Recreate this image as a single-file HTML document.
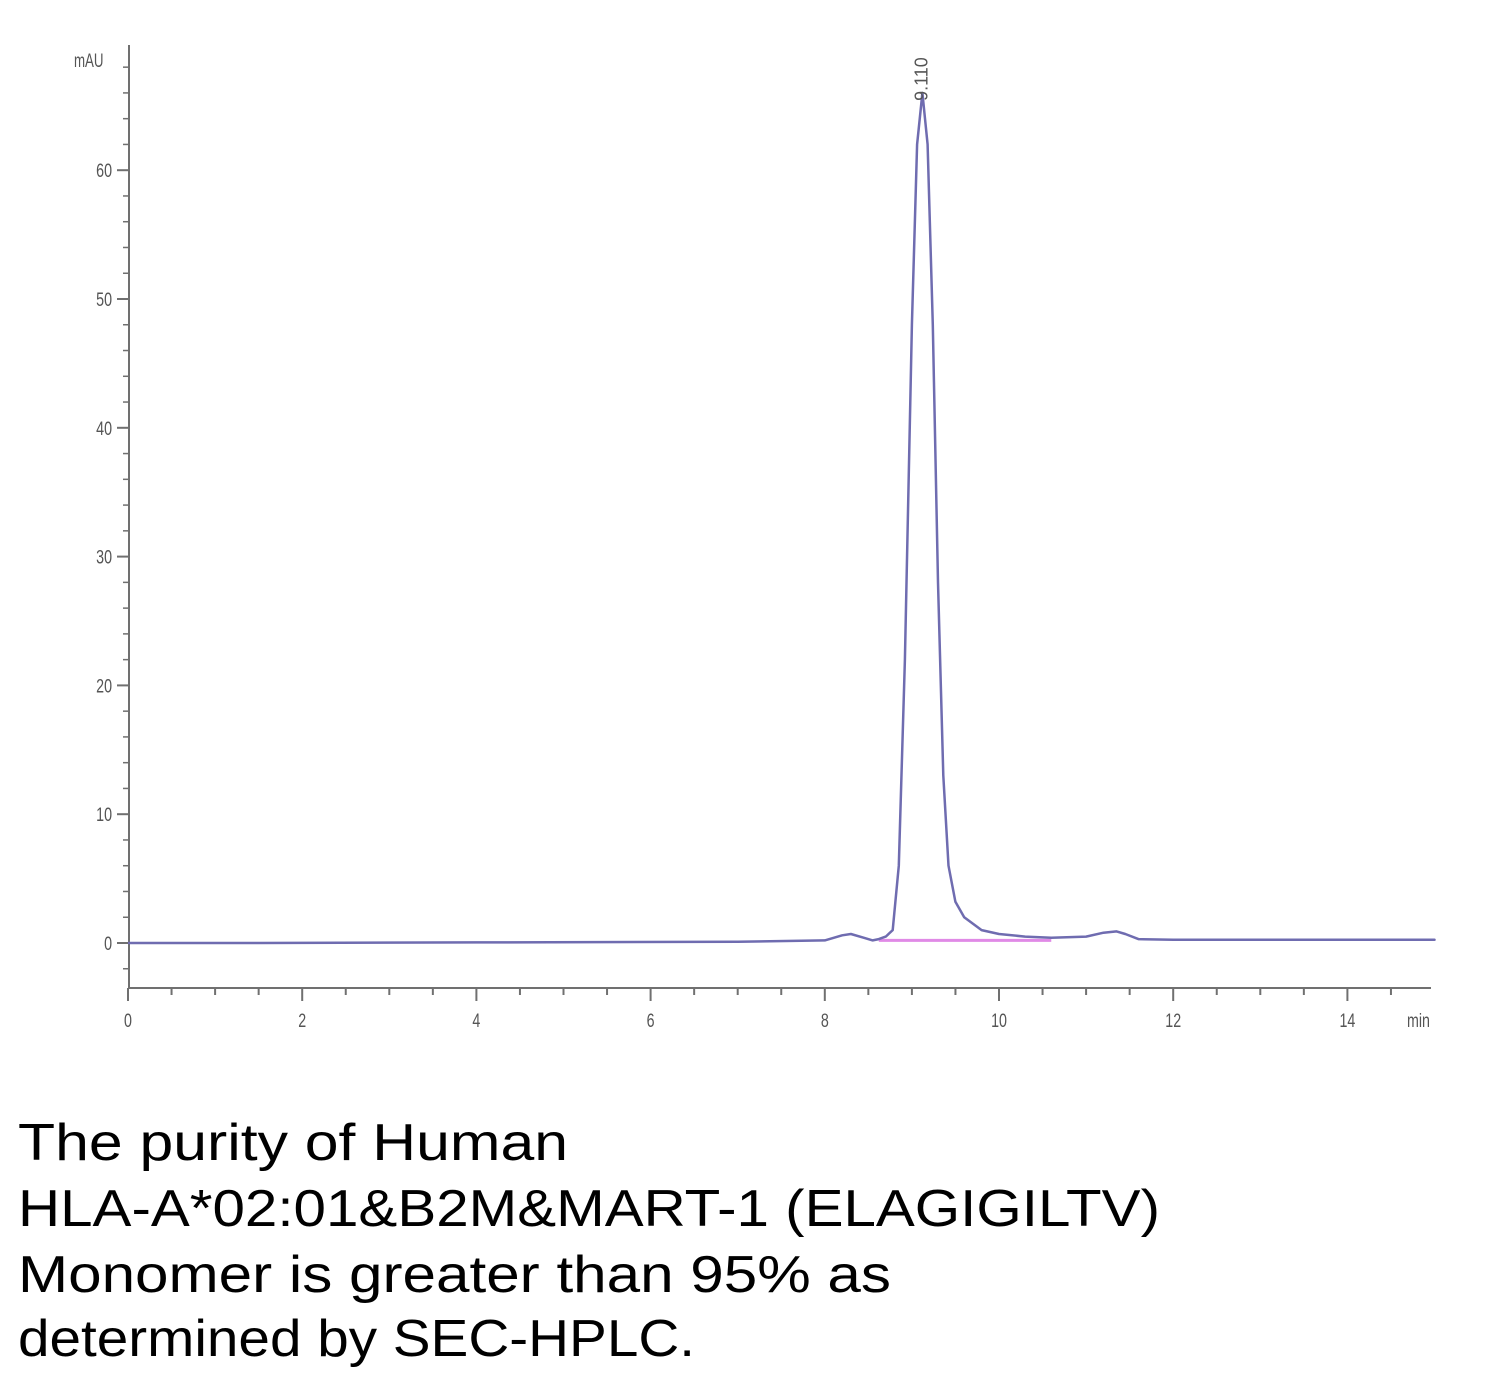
<!DOCTYPE html>
<html><head><meta charset="utf-8"><style>
html,body{margin:0;padding:0;background:#fff;width:1500px;height:1384px;overflow:hidden}
svg{display:block}
</style></head><body>
<svg id="chart" width="1500" height="1384" viewBox="0 0 1500 1384" xmlns="http://www.w3.org/2000/svg">
<g id="axes"></g>
<g id="plot"></g>
<g font-family="'Liberation Sans', sans-serif" font-size="52" fill="#000">
<text x="18" y="1160" textLength="550" lengthAdjust="spacingAndGlyphs">The purity of Human</text>
<text x="18" y="1226" textLength="1142" lengthAdjust="spacingAndGlyphs">HLA-A*02:01&amp;B2M&amp;MART-1 (ELAGIGILTV)</text>
<text x="18" y="1292" textLength="873" lengthAdjust="spacingAndGlyphs">Monomer is greater than 95% as</text>
<text x="18" y="1356" textLength="677" lengthAdjust="spacingAndGlyphs">determined by SEC-HPLC.</text>
</g>
</svg>
<script>
const times = [0,1.5,4,7,8,8.2,8.3,8.45,8.55,8.62,8.7,8.78,8.85,8.92,9.0,9.06,9.12,9.18,9.24,9.3,9.36,9.42,9.5,9.6,9.8,10.0,10.3,10.6,11.0,11.2,11.35,11.45,11.6,12,13,15];
const signal = [0,0,0.05,0.1,0.2,0.6,0.7,0.4,0.2,0.3,0.5,1,6,22,48,62,66,62,48,28,13,6,3.2,2,1,0.7,0.5,0.4,0.5,0.8,0.9,0.7,0.3,0.25,0.25,0.25];
const yTicks = [0,10,20,30,40,50,60];
const xTicks = [0,2,4,6,8,10,12,14];
const peakLabel = "9.110";
const peakTime = 9.11, peakValue = 66;
const baselineStart = 8.62, baselineEnd = 10.6;

const NS="http://www.w3.org/2000/svg";
const X0=128, PXMIN=87.1, Y0=943, PXU=12.88;
const xs=t=>X0+t*PXMIN, ys=v=>Y0-v*PXU;
function mk(tag,attrs,parent){const e=document.createElementNS(NS,tag);for(const k in attrs)e.setAttribute(k,attrs[k]);parent.appendChild(e);return e;}
const ax=document.getElementById('axes'), pl=document.getElementById('plot');
const AC="#707070";
let e=mk('line',{x1:129,y1:45,x2:129,y2:988,stroke:AC,'stroke-width':2},ax);

e=mk('line',{x1:128,y1:988,x2:1431,y2:988,stroke:AC,'stroke-width':2},ax);

for(let v=-2;v<=68;v+=2){const y=ys(v);if(y<48)continue;
 const major=v%10===0;
 e=mk('line',{x1:major?117:123,y1:y,x2:129,y2:y,stroke:AC,'stroke-width':major?2:1.5},ax);
 }
yTicks.forEach(v=>{e=mk('text',{x:112,y:ys(v)+7,'font-family':'Liberation Sans Narrow, Liberation Sans, sans-serif','font-size':19,fill:'#555','text-anchor':'end',transform:`translate(${112},0) scale(0.75,1) translate(${-112},0)`},ax);
 e.textContent=v;});
e=mk('text',{x:74,y:67,'font-family':'Liberation Sans, sans-serif','font-size':19,fill:'#555',transform:'translate(74,0) scale(0.7,1) translate(-74,0)'},ax);
e.textContent='mAU';
for(let t=0;t<=14.5;t+=0.5){const x=xs(t);const major=Number.isInteger(t/2);
 e=mk('line',{x1:x,y1:988,x2:x,y2:major?1001:995,stroke:AC,'stroke-width':2},ax);
 }
xTicks.forEach(t=>{const x=xs(t);e=mk('text',{x:x,y:1027,'font-family':'Liberation Sans, sans-serif','font-size':19,fill:'#555','text-anchor':'middle',transform:`translate(${x},0) scale(0.75,1) translate(${-x},0)`},ax);
 e.textContent=t;});
e=mk('text',{x:1407,y:1027,'font-family':'Liberation Sans, sans-serif','font-size':19,fill:'#555',transform:'translate(1407,0) scale(0.75,1) translate(-1407,0)'},ax);
e.textContent='min';
// baseline
e=mk('line',{x1:xs(baselineStart),y1:ys(0.2),x2:xs(baselineEnd),y2:ys(0.2),stroke:'#e08ae6','stroke-width':3},pl);

// trace
let d=times.map((t,i)=>(i?'L':'M')+xs(t).toFixed(1)+','+ys(signal[i]).toFixed(1)).join(' ');
d+=' L1431,'+ys(signal[signal.length-1]).toFixed(1);
e=mk('path',{d:d,fill:'none',stroke:'#6f6cb0','stroke-width':2.5,'stroke-linejoin':'round'},pl);

// peak label
const px=xs(peakTime), py=ys(peakValue);
e=mk('text',{x:0,y:0,'font-family':'Liberation Sans, sans-serif','font-size':18,fill:'#555',transform:`translate(${px+6},${py+8}) rotate(-90)`},pl);
e.textContent=peakLabel;
</script>
</body></html>
